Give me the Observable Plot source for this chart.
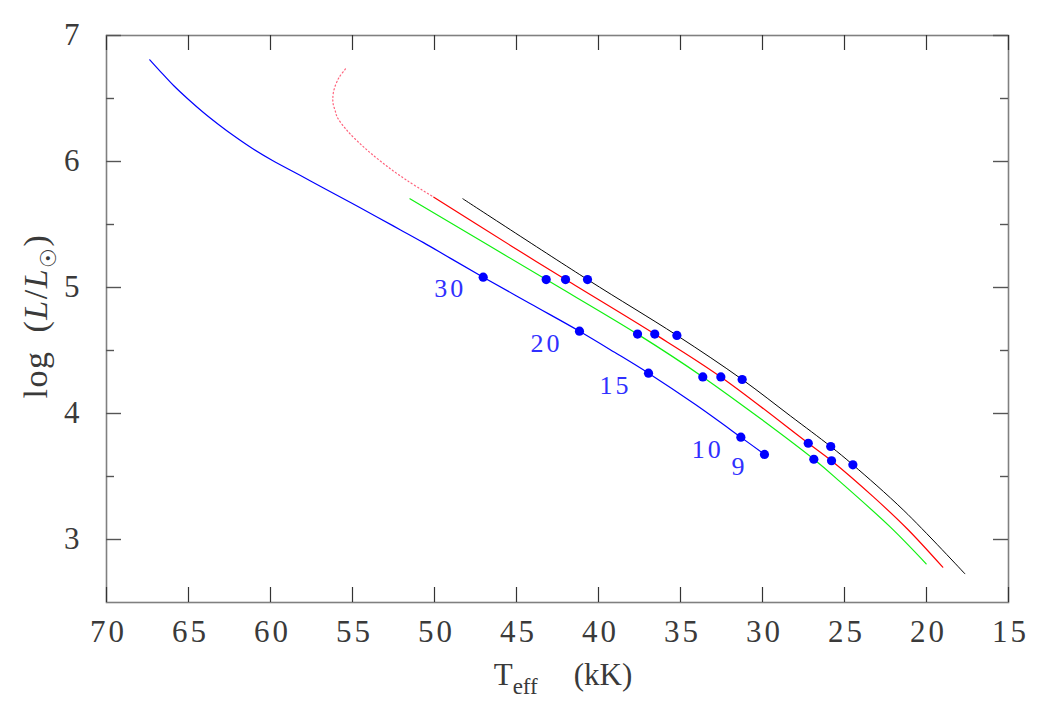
<!DOCTYPE html>
<html><head><meta charset="utf-8">
<script src="https://cdn.jsdelivr.net/npm/d3@7"></script>
<script src="https://cdn.jsdelivr.net/npm/@observablehq/plot@0.6"></script>
<style>body{margin:0;background:#fff}</style>
</head><body><div id="chart"></div>
<script>
// ---- data (Teff in kK, log L/Lsun) ----
const blueTeff = [67.36, 66.71, 65.91, 65.00, 64.09, 63.17, 62.26, 61.10, 59.88, 58.17, 56.77, 55.12, 53.48, 52.07, 50.67, 49.02, 47.03, 44.15, 41.16, 39.02, 36.95, 34.09, 31.32, 29.88];
const blueLogL = [6.807, 6.714, 6.603, 6.492, 6.389, 6.294, 6.206, 6.103, 6.008, 5.889, 5.790, 5.674, 5.558, 5.457, 5.356, 5.231, 5.082, 4.871, 4.653, 4.486, 4.320, 4.071, 3.812, 3.675];

const redDotTeffLine = [55.43, 55.85, 56.14, 56.20, 56.18, 56.05, 55.93, 55.33, 54.31, 53.09, 51.67, 50.04];
const redDotLogLLine = [6.735, 6.660, 6.563, 6.500, 6.458, 6.400, 6.352, 6.246, 6.114, 5.982, 5.849, 5.717];

const redTeff = [50.04, 45.37, 42.01, 36.57, 32.54, 27.21, 25.79, 23.22, 21.18, 19.01];
const redLogL = [5.717, 5.334, 5.063, 4.630, 4.290, 3.764, 3.625, 3.336, 3.085, 2.780];

const greenTeff = [51.50, 43.19, 37.62, 33.64, 26.87, 25.24, 22.20, 20.02];
const greenLogL = [5.704, 5.063, 4.630, 4.290, 3.637, 3.455, 3.098, 2.807];

const blackTeff = [48.27, 40.67, 35.22, 31.24, 28.29, 25.84, 24.49, 21.38, 17.66];
const blackLogL = [5.704, 5.063, 4.620, 4.270, 3.980, 3.738, 3.593, 3.230, 2.728];

// mass markers
const blueMass = ["30", "20", "15", "10", "9"];
const blueDotTeff = [47.03, 41.16, 36.95, 31.32, 29.88];
const blueDotLogL = [5.082, 4.653, 4.320, 3.812, 3.675];
const greenDotTeff = [43.19, 37.62, 33.64, 26.87];
const greenDotLogL = [5.063, 4.630, 4.290, 3.637];
const redDotTeff = [42.01, 36.57, 32.54, 27.21, 25.79];
const redDotLogL = [5.063, 4.630, 4.290, 3.764, 3.625];
const blackDotTeff = [40.67, 35.22, 31.24, 25.84, 24.49];
const blackDotLogL = [5.063, 4.620, 4.270, 3.738, 3.593];

const xTicks = [70, 65, 60, 55, 50, 45, 40, 35, 30, 25, 20, 15];
const yMajor = [3, 4, 5, 6, 7];
const yMinor = [3.5, 4.5, 5.5, 6.5];

// ---- build ----
const W = 1063, H = 709, mL = 106, mR = 55, mT = 35, mB = 107;
const innerW = W - mL - mR, innerH = H - mT - mB;
const pts = (xs, ys, extra = {}) => xs.map((x, i) => ({T: x, L: ys[i], ...Object.fromEntries(Object.entries(extra).map(([k, v]) => [k, v[i]]))}));

const blue = pts(blueTeff, blueLogL);
const redDotted = pts(redDotTeffLine, redDotLogLLine);
const red = pts(redTeff, redLogL);
const green = pts(greenTeff, greenLogL);
const black = pts(blackTeff, blackLogL);
const dots = [
  ...pts(blueDotTeff, blueDotLogL),
  ...pts(greenDotTeff, greenDotLogL),
  ...pts(redDotTeff, redDotLogL),
  ...pts(blackDotTeff, blackDotLogL)
];
const labels = pts(blueDotTeff, blueDotLogL, {m: blueMass});

const lineOpts = {x: "T", y: "L", strokeWidth: 1.2, curve: "catmull-rom"};

const plot = Plot.plot({
  width: W, height: H,
  marginLeft: mL, marginRight: mR, marginTop: mT, marginBottom: mB,
  style: {fontFamily: "'Liberation Serif', 'DejaVu Serif', serif", fontSize: "31px", background: "#fff", color: "#3a3a3a"},
  x: {domain: [70, 15]},
  y: {domain: [2.5, 7]},
  marks: [
    Plot.frame({stroke: "#808080", strokeWidth: 1.6}),
    Plot.tickX(xTicks, {x: d => d, insetTop: innerH - 15, stroke: "#333", strokeWidth: 1.2}),
    Plot.tickX(xTicks, {x: d => d, insetBottom: innerH - 15, stroke: "#333", strokeWidth: 1.2}),
    Plot.tickY(yMajor, {y: d => d, insetRight: innerW - 15, stroke: "#555", strokeWidth: 1.4}),
    Plot.tickY(yMajor, {y: d => d, insetLeft: innerW - 15, stroke: "#555", strokeWidth: 1.4}),
    Plot.tickY(yMinor, {y: d => d, insetRight: innerW - 8, stroke: "#555", strokeWidth: 1.4}),
    Plot.tickY(yMinor, {y: d => d, insetLeft: innerW - 8, stroke: "#555", strokeWidth: 1.4}),
    Plot.axisX({ticks: xTicks, tickSize: 0, tickPadding: 17, tickFormat: d => String(d), label: null, fill: "#3a3a3a", dx: 2}),
    Plot.axisY({ticks: yMajor, tickSize: 0, tickPadding: 24, tickFormat: d => String(d), label: null, fill: "#3a3a3a"}),
    Plot.line(redDotted, {...lineOpts, stroke: "#ff3a5a", strokeDasharray: "1.2,2.6", strokeOpacity: 0.8}),
    Plot.line(blue, {...lineOpts, stroke: "#0000ff"}),
    Plot.line(green, {...lineOpts, stroke: "#10f010"}),
    Plot.line(red, {...lineOpts, stroke: "#ff0000"}),
    Plot.line(black, {...lineOpts, stroke: "#000000", strokeWidth: 1}),
    Plot.dot(dots, {x: "T", y: "L", r: 4.6, fill: "#0000ff", stroke: "none"}),
    Plot.text(labels, {x: "T", y: "L", text: "m", textAnchor: "end", dx: -17, dy: 12, fill: "#3030ff", fontSize: 26})
  ]
});

const svg = d3.select(plot);
// widen digit spacing a little (Hershey-like digits are wider)
svg.selectAll("[aria-label='x-axis tick label'] text, [aria-label='y-axis tick label'] text, [aria-label='text'] text")
  .style("letter-spacing", "3px");

// x-axis title
const xt = svg.append("text")
  .attr("x", 563).attr("y", 685)
  .attr("text-anchor", "middle")
  .attr("fill", "#3a3a3a")
  .style("font-size", "31px");
xt.append("tspan").text("T");
xt.append("tspan").attr("dy", 9).style("font-size", "23px").text("eff");
xt.append("tspan").attr("dy", -9).attr("dx", 36).text("(kK)");

// y-axis title
const yt = svg.append("text")
  .attr("transform", "translate(47,316) rotate(-90)")
  .attr("text-anchor", "middle")
  .attr("fill", "#3a3a3a")
  .style("font-size", "34px")
  .style("letter-spacing", "1.5px");
yt.append("tspan").text("log");
yt.append("tspan").attr("dx", 18).text("(");
yt.append("tspan").style("font-style", "italic").text("L");
yt.append("tspan").text("/");
yt.append("tspan").style("font-style", "italic").text("L");
yt.append("tspan").attr("dy", 9).style("font-size", "22px").text("\u2609");
yt.append("tspan").attr("dy", -9).text(")");

document.getElementById("chart").appendChild(plot);
</script>
</body></html>
